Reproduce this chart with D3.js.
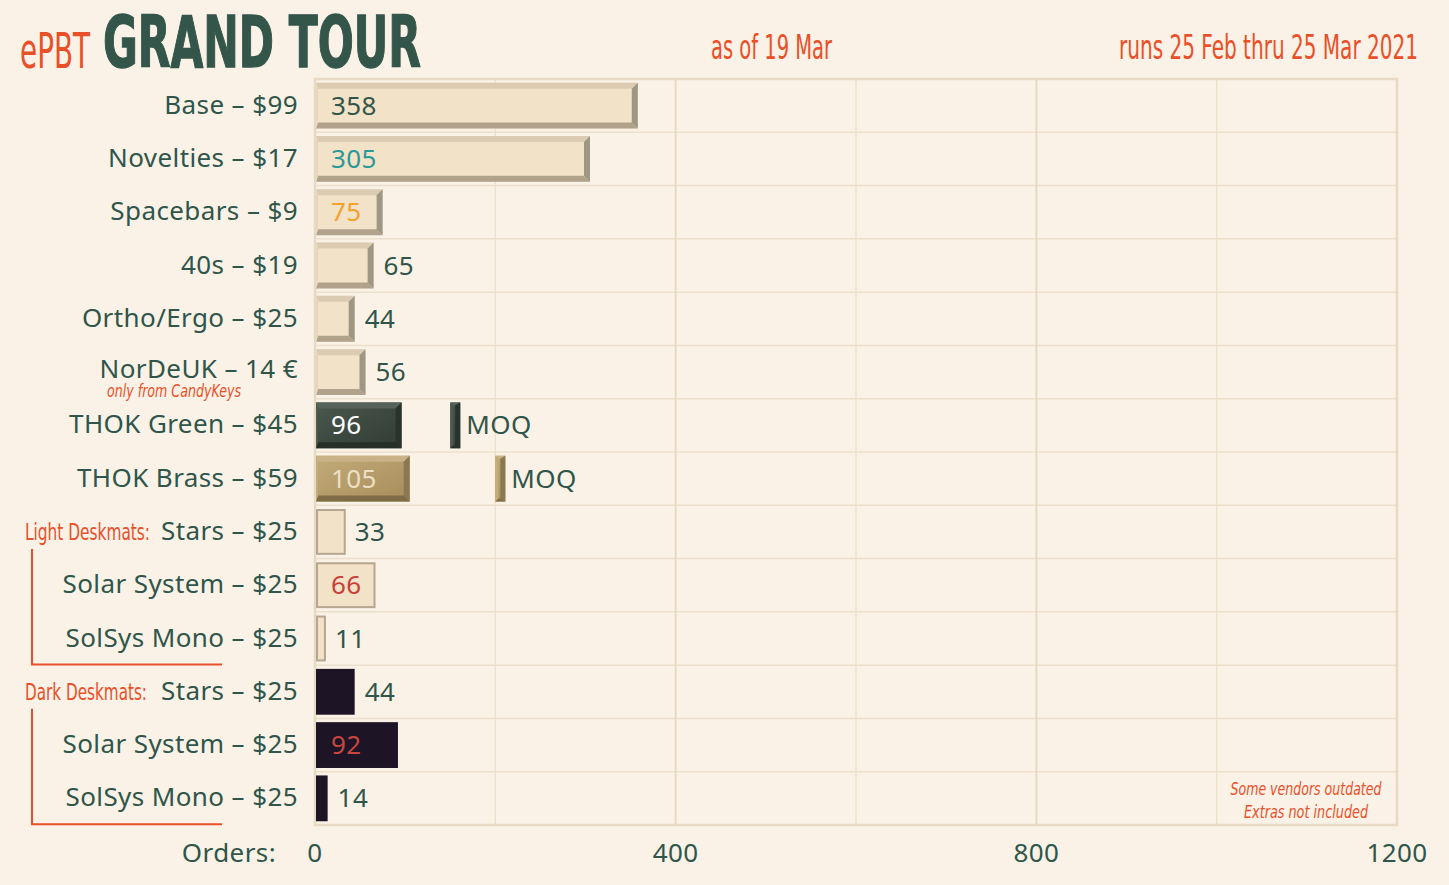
<!DOCTYPE html>
<html>
<head>
<meta charset="utf-8">
<script src="https://cdn.jsdelivr.net/npm/d3@7"></script>
<style>
  html, body { margin: 0; padding: 0; background: #faf2e6; }
  svg { display: block; }
</style>
</head>
<body>
<svg id="chart" width="1449" height="885"></svg>
<script>
// ---------- DATA ----------
const categories = [
  "Base – $99", "Novelties – $17", "Spacebars – $9", "40s – $19",
  "Ortho/Ergo – $25", "NorDeUK – 14 €", "THOK Green – $45", "THOK Brass – $59",
  "Stars – $25", "Solar System – $25", "SolSys Mono – $25",
  "Stars – $25 ", "Solar System – $25 ", "SolSys Mono – $25 "
];
const orders = [358, 305, 75, 65, 44, 56, 96, 105, 33, 66, 11, 44, 92, 14];
const moq = [null, null, null, null, null, null, 150, 200, null, null, null, null, null, null];
const kinds = ["keycap", "keycap", "keycap", "keycap", "keycap", "keycap", "thokGreen", "thokBrass",
               "lightMat", "lightMat", "lightMat", "darkMat", "darkMat", "darkMat"];
const groups = [
  { label: "Light Deskmats:", first: 8, last: 10 },
  { label: "Dark Deskmats:", first: 11, last: 13 }
];
const xTicks = [0, 400, 800, 1200];
const gridValues = [200, 400, 600, 800, 1000];
const titleMain = "GRAND TOUR";
const titlePre = "ePBT";
const asOf = "as of 19 Mar";
const runs = "runs 25 Feb thru 25 Mar 2021";
const noteLines = ["Some vendors outdated", "Extras not included"];
const subNote = { index: 5, text: "only from CandyKeys" };

// ---------- STYLE ----------
const C = {
  bg: "#faf2e6", text: "#30554a", orange: "#e8502a", grid: "#ecdfcb", gridMajor: "#e8d9c3"
};
const insideColors = { 0: "#30554a", 1: "#2a9a98", 2: "#f4a12e", 6: "#ffffff", 7: "#ecdfc4", 9: "#c8403a", 12: "#c8463e" };
const kindStyle = {
  keycap:   { body: "#f2e2c8", top: "#dbcbb3", bottom: "#b1a28c", right: "#9e9783", left: "#e6d6bc" },
  thokGreen:{ body: "url(#gGreen)", top: "#55635a", bottom: "#263029", right: "#29322c", left: "#4d5a51" },
  thokBrass:{ body: "url(#gBrass)", top: "#c9b386", bottom: "#7f6c46", right: "#8c7850", left: "#c4ad7c" }
};
const font = "'Noto Sans', 'Open Sans', sans-serif";
const fontSize = 26;
const letterSp = 0.4;
const condensed = "'DejaVu Sans Condensed', 'Liberation Sans Narrow', sans-serif";

const svg = d3.select("#chart");
const W = 1449, H = 885;
svg.append("rect").attr("width", W).attr("height", H).attr("fill", C.bg);

const defs = svg.append("defs");
const gg = defs.append("linearGradient").attr("id", "gGreen").attr("x1", 0).attr("y1", 0).attr("x2", 1).attr("y2", 1);
gg.append("stop").attr("offset", 0).attr("stop-color", "#4b584e");
gg.append("stop").attr("offset", 1).attr("stop-color", "#303c34");
const gb = defs.append("linearGradient").attr("id", "gBrass").attr("x1", 0).attr("y1", 0).attr("x2", 1).attr("y2", 1);
gb.append("stop").attr("offset", 0).attr("stop-color", "#c3ab79");
gb.append("stop").attr("offset", 1).attr("stop-color", "#a68d5b");

// condensed text helper: small font stretched vertically, exact width by textLength
function condText(px, py, txt, o) {
  const g = svg.append("g").attr("transform", `translate(${px},${py}) scale(1,${o.sy || 1})`);
  const t = g.append("text").attr("x", 0).attr("y", 0)
    .attr("font-family", condensed).attr("font-size", o.size).attr("fill", o.fill || C.orange)
    .attr("text-anchor", o.anchor || "start")
    .attr("textLength", o.len).attr("lengthAdjust", "spacingAndGlyphs").text(txt);
  if (o.bold) t.attr("font-weight", "bold");
  if (o.italic) t.attr("font-style", "italic");
  if (o.stroke) t.attr("stroke", o.fill).attr("stroke-width", o.stroke);
  return t;
}

// ---------- SCALES ----------
const plot = { left: 315, right: 1397, top: 79, bottom: 825 };
const x = d3.scaleLinear().domain([0, 1200]).range([plot.left, plot.right]);
const y = d3.scaleBand().domain(categories).range([plot.top, plot.bottom]).paddingInner(0.14).paddingOuter(0.07);
const step = y.step();

// ---------- GRID ----------
const grid = svg.append("g");
categories.slice(1).forEach(c => {
  const yy = y(c) - step * 0.07;
  grid.append("line").attr("x1", plot.left).attr("x2", plot.right).attr("y1", yy).attr("y2", yy)
    .attr("stroke", C.grid).attr("stroke-width", 1.5);
});
gridValues.forEach(v => {
  grid.append("line").attr("x1", x(v)).attr("x2", x(v)).attr("y1", plot.top).attr("y2", plot.bottom)
    .attr("stroke", v % 400 === 0 ? C.gridMajor : C.grid).attr("stroke-width", v % 400 === 0 ? 2 : 1.3);
});
grid.append("rect").attr("x", plot.left).attr("y", plot.top)
  .attr("width", x(1200) - x(0)).attr("height", plot.bottom - plot.top)
  .attr("fill", "none").attr("stroke", C.gridMajor).attr("stroke-width", 2.5);

// ---------- BARS ----------
function bevel(g, x0, x1, y0, y1, st, b) {
  const w = x1 - x0;
  const br = Math.min(b.r, w / 2), bl = Math.min(b.l, w / 2);
  const P = pts => pts.map(p => p.join(",")).join(" ");
  g.append("rect").attr("x", x0).attr("y", y0).attr("width", w).attr("height", y1 - y0).attr("fill", st.body);
  g.append("polygon").attr("points", P([[x0, y0], [x1, y0], [x1 - br, y0 + b.t], [x0 + bl, y0 + b.t]])).attr("fill", st.top);
  g.append("polygon").attr("points", P([[x0, y1], [x1, y1], [x1 - br, y1 - b.b], [x0 + bl, y1 - b.b]])).attr("fill", st.bottom);
  g.append("polygon").attr("points", P([[x1, y0], [x1, y1], [x1 - br, y1 - b.b], [x1 - br, y0 + b.t]])).attr("fill", st.right);
  g.append("polygon").attr("points", P([[x0, y0], [x0, y1], [x0 + bl, y1 - b.b], [x0 + bl, y0 + b.t]])).attr("fill", st.left);
}

const bars = svg.append("g");
const labelsG = svg.append("g").attr("font-family", font).attr("font-size", fontSize)
  .attr("letter-spacing", letterSp).attr("fill", C.text);
categories.forEach((c, i) => {
  const v = orders[i], kind = kinds[i];
  const y0 = y(c), y1 = y(c) + y.bandwidth();
  const x0 = x(0) + 1, x1 = x(v);
  const g = bars.append("g");
  if (kindStyle[kind]) {
    bevel(g, x0, x1, y0, y1, kindStyle[kind], { t: 6, b: 6, r: 6, l: 2 });
  } else if (kind === "lightMat") {
    g.append("rect").attr("x", x0 + 1).attr("y", y0 + 1).attr("width", x1 - x0 - 1).attr("height", y1 - y0 - 2)
      .attr("fill", "#f2e2c8").attr("stroke", "#b5a68f").attr("stroke-width", 2);
  } else {
    g.append("rect").attr("x", x0).attr("y", y0).attr("width", x1 - x0).attr("height", y1 - y0).attr("fill", "#1d1426");
  }
  // MOQ marker
  if (moq[i] != null) {
    const mx0 = x(moq[i]), mx1 = mx0 + 10;
    bevel(g, mx0, mx1, y0, y1, kindStyle[kind], { t: 3, b: 3, r: 5, l: 3 });
    labelsG.append("text").attr("x", mx1 + 6).attr("y", y0 + y.bandwidth() / 2 + 9).text("MOQ");
  }
  // value label
  const cy = y0 + y.bandwidth() / 2 + 9;
  if (insideColors[i] !== undefined) {
    labelsG.append("text").attr("x", x(0) + 16).attr("y", cy).attr("fill", insideColors[i]).text(v);
  } else {
    labelsG.append("text").attr("x", x1 + 10).attr("y", cy).text(v);
  }
  // category label (the one with a sub-note sits slightly higher)
  labelsG.append("text").attr("x", 298)
    .attr("y", y0 + y.bandwidth() / 2 + (i === subNote.index ? 5.5 : 8))
    .attr("text-anchor", "end").text(c.trim());
});

// sub-note under NorDeUK
condText(107, y(categories[subNote.index]) + y.bandwidth() / 2 + 24.5, subNote.text,
  { size: 14, sy: 1.2, len: 134, italic: true });

// group labels and brackets
groups.forEach(gp => {
  const cyF = y(categories[gp.first]) + y.bandwidth() / 2;
  const cyL = y(categories[gp.last]) + y.bandwidth() / 2;
  const tw = gp.label.startsWith("Light") ? 125 : 122;
  condText(25, cyF + 8, gp.label, { size: 17, sy: 1.4, len: tw });
  svg.append("path")
    .attr("d", `M32,${cyF + 17} V${cyL + 26} H222`)
    .attr("fill", "none").attr("stroke", C.orange).attr("stroke-width", 2);
});

// ---------- AXIS ----------
const axisG = svg.append("g").attr("font-family", font).attr("font-size", fontSize)
  .attr("letter-spacing", letterSp).attr("fill", C.text);
xTicks.forEach(t => {
  axisG.append("text").attr("x", x(t)).attr("y", 862).attr("text-anchor", "middle").text(t);
});
axisG.append("text").attr("x", 276).attr("y", 862).attr("text-anchor", "end").text("Orders:");

// ---------- TITLES ----------
condText(103, 67, titleMain, { size: 50, sy: 1.42, len: 318, bold: true, fill: "#33554a", stroke: 0.9 });
condText(20, 68, titlePre, { size: 30, sy: 1.65, len: 70 });
condText(711, 59, asOf, { size: 21, sy: 1.6, len: 121 });
condText(1418, 59, runs, { size: 21, sy: 1.6, len: 299, anchor: "end" });

// ---------- NOTE ----------
noteLines.forEach((t, i) => {
  condText(1306, 795 + i * 23, t, { size: 15, sy: 1.15, len: i === 0 ? 151 : 124, anchor: "middle", italic: true });
});
</script>
</body>
</html>
